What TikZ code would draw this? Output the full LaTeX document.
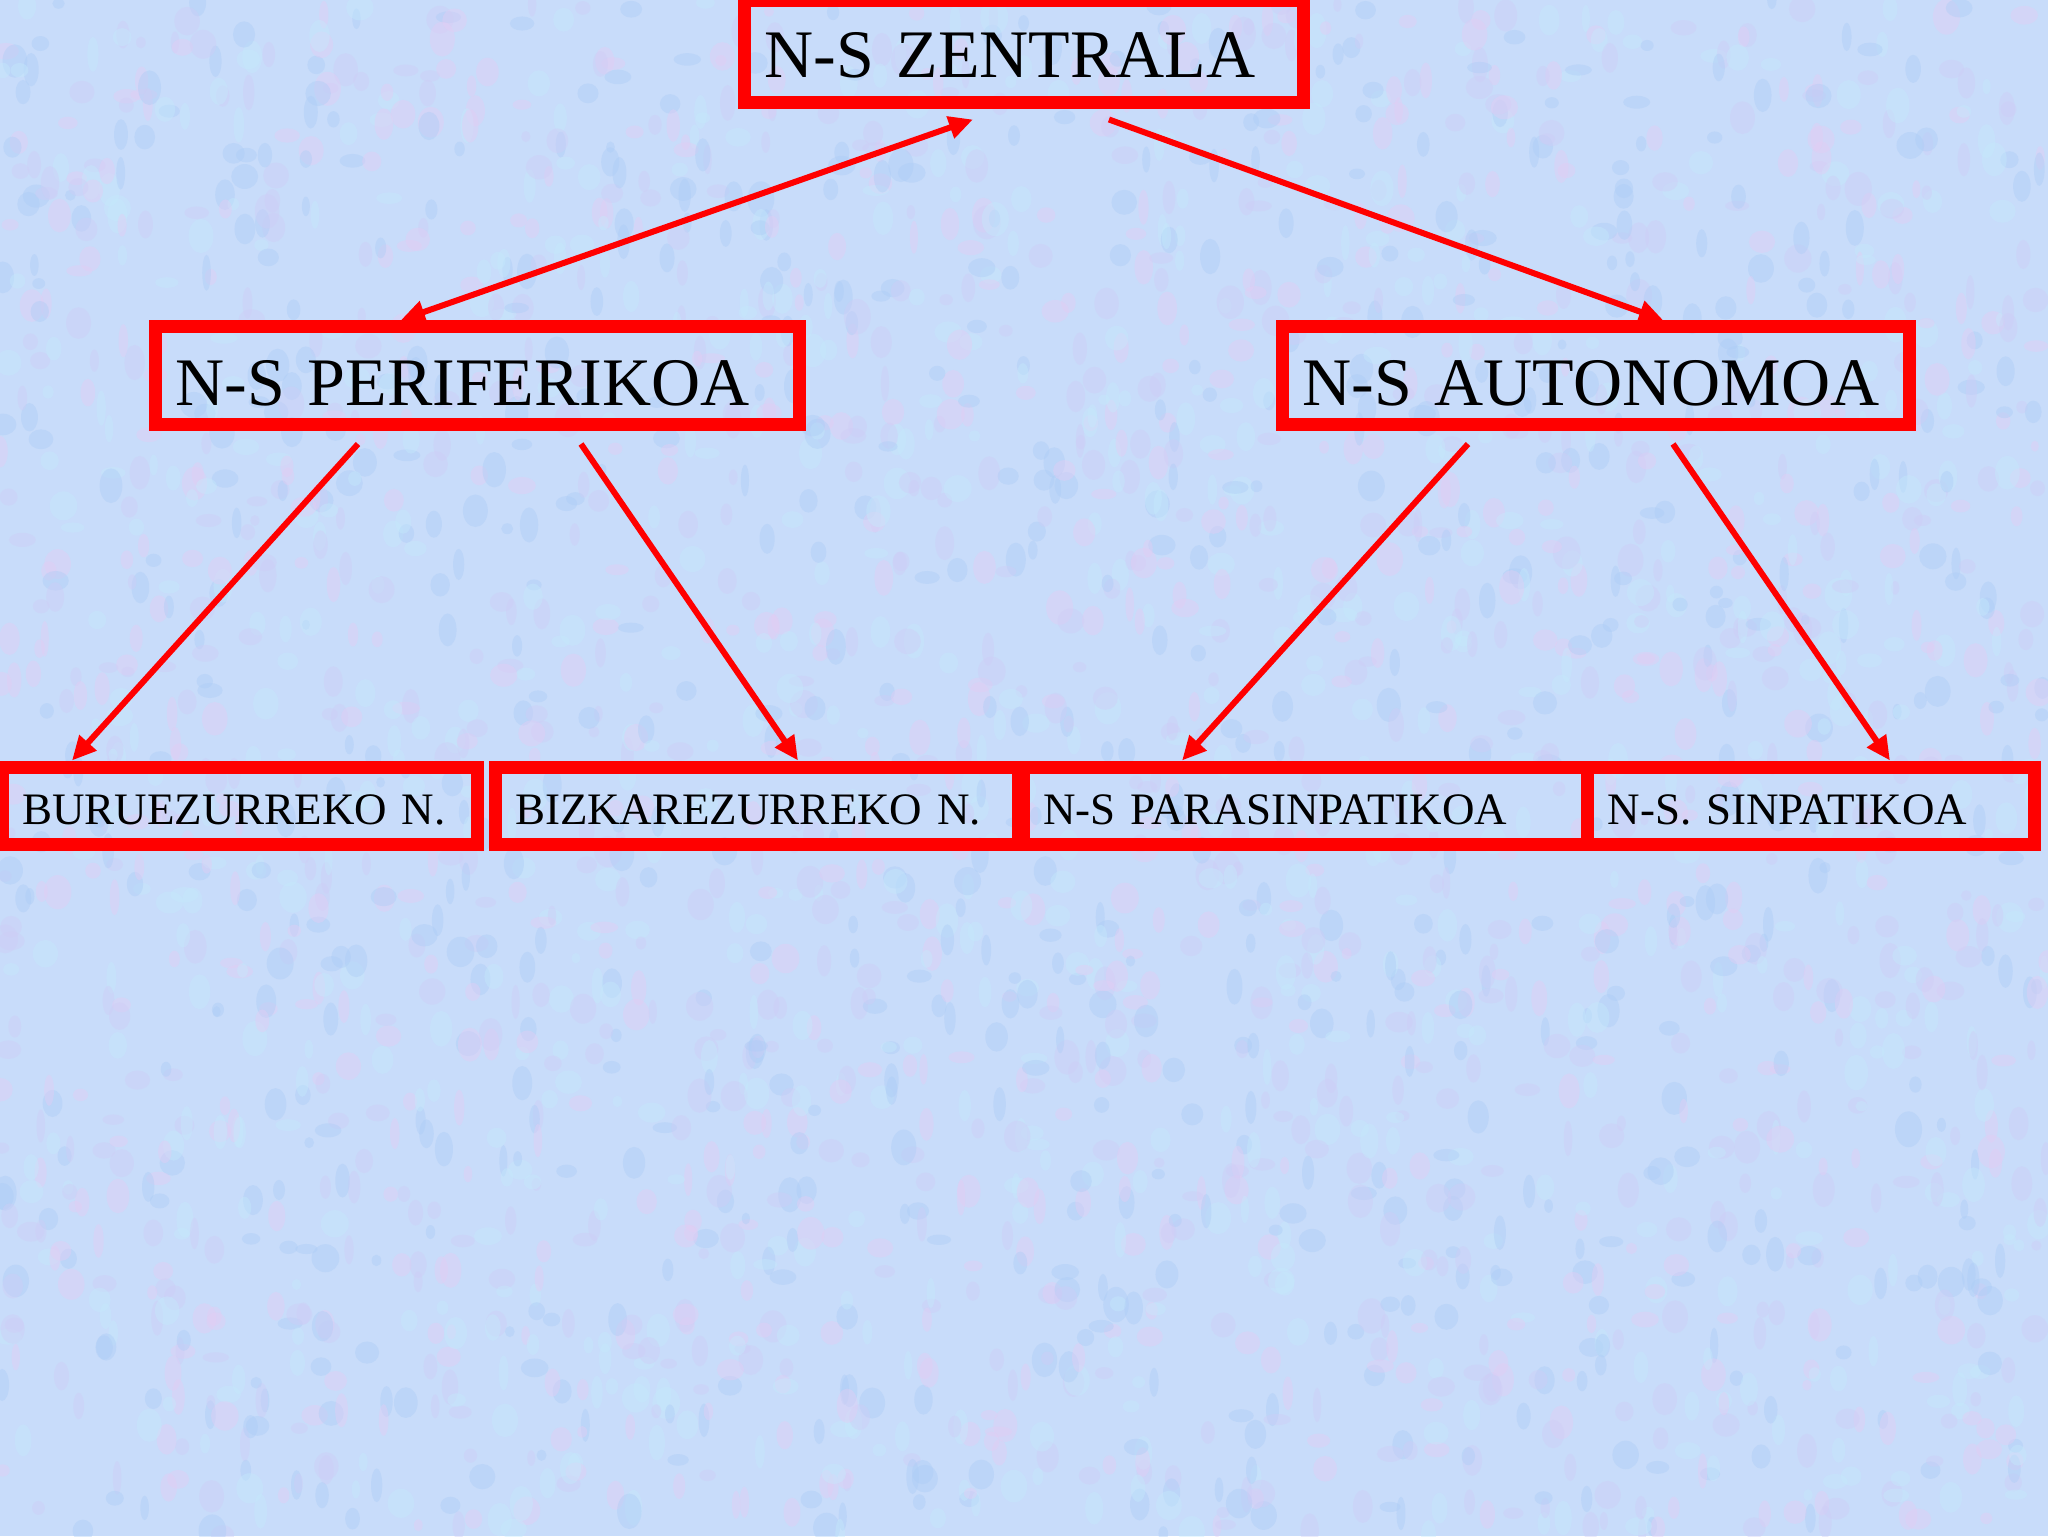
\documentclass[tikz,border=0pt]{standalone}
\usepackage{fontspec}
\setmainfont{Liberation Serif}
\usetikzlibrary{arrows.meta,calc}
\definecolor{bgbase}{RGB}{200,220,250}
\definecolor{blotpink}{RGB}{228,204,244}
\definecolor{blotblue}{RGB}{172,204,246}
\definecolor{blotcyan}{RGB}{196,234,252}
\definecolor{blotlav}{RGB}{206,204,246}
\definecolor{boxred}{RGB}{255,0,0}
\tikzset{
  bigbox/.style={draw=boxred, line width=6.5pt, inner xsep=10pt, inner ysep=0pt,
    align=left, font=\fontsize{34}{34}\selectfont, text depth=0pt,
    minimum height=49pt, text height=29.5pt},
  smallbox/.style={draw=boxred, line width=6.5pt, inner xsep=10pt, inner ysep=0pt,
    align=left, font=\fontsize{22.5}{22.5}\selectfont, text depth=0pt,
    minimum height=38.5pt, text height=18.5pt},
  link/.style={draw=boxred, line width=3pt, -{Triangle[length=12pt,width=11pt]}},
  dlink/.style={draw=boxred, line width=3pt, {Triangle[length=12pt,width=11pt]}-{Triangle[length=12pt,width=11pt]}},
}
\begin{document}
\begin{tikzpicture}[x=0.5pt,y=-0.5pt]
\useasboundingbox (0,0) rectangle (2048,1536);
\fill[bgbase] (0,0) rectangle (2048,1536);
\pgfmathsetseed{12345}
\foreach \i in {1,...,3000}{
  \pgfmathsetmacro{\px}{2048*rnd}
  \pgfmathsetmacro{\py}{1536*rnd}
  \pgfmathsetmacro{\rx}{4+10*rnd}
  \pgfmathsetmacro{\ry}{5+13*rnd}
  \pgfmathtruncatemacro{\cc}{4*rnd}
  \ifcase\cc\relax \colorlet{blot}{blotpink}\or \colorlet{blot}{blotblue}\or \colorlet{blot}{blotcyan}\or \colorlet{blot}{blotlav}\else \colorlet{blot}{blotlav}\fi
  \fill[blot, opacity=0.4] (\px,\py) ellipse[x radius=\rx, y radius=\ry];
}

% top
\node[bigbox, minimum width=279.25pt, text width=259.25pt, minimum height=51pt, text height=26pt]
  (zen) at (1023.75,52) {N-S ZENTRALA};
% middle
\node[bigbox, minimum width=322pt, text width=302pt] (peri) at (477.5,375.5) {N-S PERIFERIKOA};
\node[bigbox, minimum width=313.5pt, text width=293.5pt] (auto) at (1596,375.5) {N-S AUTONOMOA};
% bottom
\node[smallbox, minimum width=237.5pt, text width=217.5pt] (buru) at (239.5,805.5) {BURUEZURREKO N.};
\node[smallbox, minimum width=261.5pt, text width=241.5pt] (bizka) at (756.5,805.5) {BIZKAREZURREKO N.};
\node[smallbox, minimum width=282.25pt, text width=262.25pt] (para) at (1305.25,805.5) {N-S PARASINPATIKOA};
\node[smallbox, minimum width=223.25pt, text width=203.25pt] (sinp) at (1810.75,805.5) {N-S. SINPATIKOA};

% connectors
\draw[dlink] ([xshift=-38.25pt]peri.north) -- ([xshift=-25.4pt,yshift=-5pt]zen.south);
\draw[link] ([xshift=42.6pt,yshift=-5pt]zen.south) -- ([xshift=33.5pt]auto.north);
\draw[link] ([xshift=-59.75pt,yshift=-6.5pt]peri.south) -- ([xshift=-83.75pt]buru.north);
\draw[link] ([xshift=51.75pt,yshift=-6.5pt]peri.south) -- ([xshift=20.75pt]bizka.north);
\draw[link] ([xshift=-64pt,yshift=-6.5pt]auto.south) -- ([xshift=-61.6pt]para.north);
\draw[link] ([xshift=38.5pt,yshift=-6.5pt]auto.south) -- ([xshift=39.6pt]sinp.north);
\end{tikzpicture}
\end{document}
